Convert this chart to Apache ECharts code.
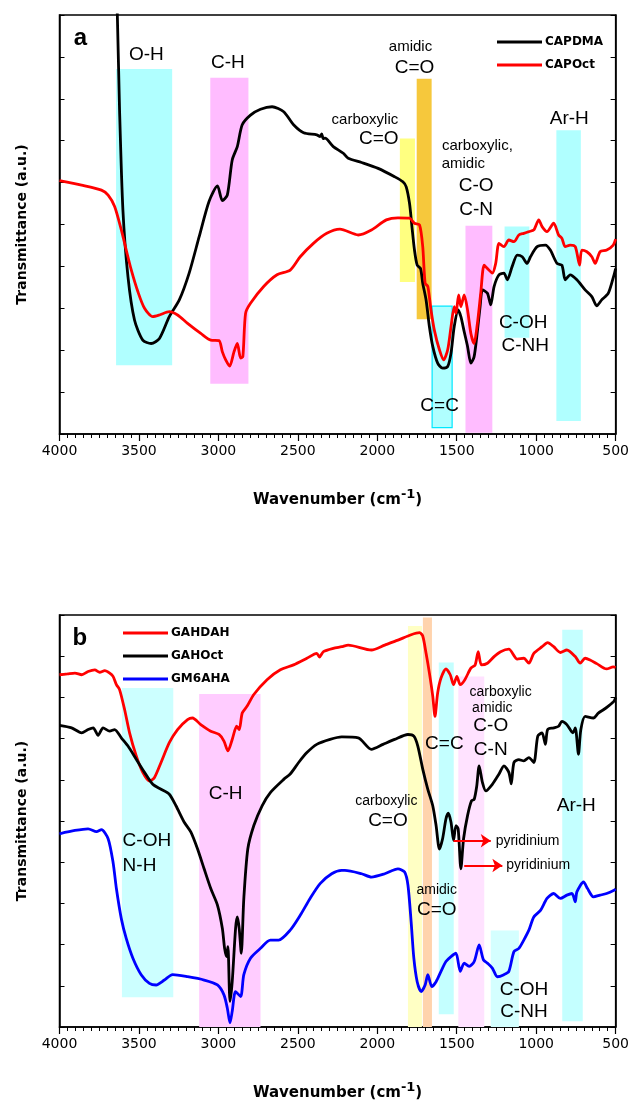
<!DOCTYPE html>
<html>
<head>
<meta charset="utf-8">
<script src="https://cdn.jsdelivr.net/npm/echarts@6/dist/echarts.min.js"></script>
<style>
  html, body { margin: 0; padding: 0; background: #ffffff; }
  #chart { width: 632px; height: 1102px; }
</style>
</head>
<body>
<div id="chart"></div>
<script>
// ---- data: panel a (wavenumber, transmittance a.u.) ----
var capdma = [[3650,115],[3636,100],[3622,77.3],[3601,53.5],[3569,37.5],[3528,27.2],[3476,22.4],[3423,21.6],[3371,22.8],[3309,28],[3246,32],[3184,38.4],[3121,47.1],[3059,55.5],[3006,59.2],[2975,55.7],[2944,57],[2913,65.4],[2881,68.6],[2850,73.8],[2798,76.1],[2735,77.5],[2662,78.1],[2589,76.9],[2527,73.8],[2464,71.9],[2381,71.4],[2360,71.0],[2350,71.6],[2340,70.5],[2329,70.6],[2277,68.6],[2214,67],[2183,65.8],[2099,64.8],[1995,63.4],[1891,61.4],[1839,60.2],[1818,59],[1797,55],[1782,49.5],[1766,43.9],[1749,40.3],[1728,39.5],[1714,36],[1693,32],[1672,25.6],[1651,20.9],[1620,16.9],[1589,15.7],[1557,16.1],[1536,19.3],[1516,25.6],[1491,29.6],[1474,28],[1453,24.4],[1432,20.9],[1411,16.9],[1391,18.4],[1374,23.2],[1353,30.4],[1338,34.4],[1307,33.6],[1286,30.8],[1265,35.2],[1234,38],[1203,38.4],[1182,36.8],[1151,40],[1119,42.7],[1088,42.3],[1057,40.7],[1036,42.3],[994,44.7],[942,45.1],[911,43.9],[869,40.7],[838,40.3],[817,36.8],[786,38],[744,36.8],[692,34.4],[650,32.8],[619,30.6],[588,32],[546,33.6],[510,38],[500,39.5]];
var capoct = [[4000,60.5],[3861,59.4],[3736,58.2],[3694,57],[3653,54.3],[3611,48.7],[3580,43.9],[3548,39.1],[3507,34],[3465,30],[3413,28],[3371,28.4],[3309,29.2],[3257,28.4],[3194,26.4],[3111,24],[3048,22.4],[2996,22.3],[2975,19.6],[2954,17.7],[2929,16.2],[2902,19.6],[2881,21.6],[2860,18.1],[2846,18.5],[2829,28.8],[2798,31.2],[2715,35.2],[2631,38],[2548,39.1],[2485,42.3],[2402,45.5],[2318,47.9],[2235,48.9],[2120,47.5],[2037,48.7],[1943,51.1],[1870,51.6],[1797,51.5],[1766,50.3],[1734,49.9],[1714,44.7],[1699,36],[1682,35.2],[1662,29.6],[1641,24.8],[1609,20.1],[1582,17.7],[1557,20.1],[1536,25.6],[1516,30.4],[1505,28.8],[1488,33.2],[1474,30.4],[1453,33.2],[1432,29.6],[1411,24],[1391,21.6],[1370,26.4],[1349,33.6],[1328,40.3],[1307,39.5],[1276,38.4],[1255,40.7],[1234,45.5],[1203,44.7],[1172,46.3],[1140,45.9],[1109,47.5],[1078,47.9],[1046,48.3],[1015,48.7],[984,51.1],[963,49.5],[932,48.3],[890,50.3],[859,47.5],[838,46.7],[817,44.7],[786,45.1],[754,44.7],[727,40.3],[713,43.9],[681,43.5],[650,42.3],[629,40.7],[598,43.5],[556,43.9],[515,45.1],[500,46.5]];

// ---- data: panel b ----
var gahdah = [[4000,85.5],[3950,85.7],[3903,85.9],[3860,85.5],[3820,86.3],[3778,86.7],[3747,86.1],[3715,86.5],[3684,85.9],[3663,85.1],[3642,83.1],[3622,81.9],[3590,77],[3559,71.4],[3517,65.8],[3476,61.8],[3434,59.7],[3403,60.5],[3361,64.2],[3309,69],[3257,72.2],[3194,74.6],[3163,75],[3111,73.4],[3048,71.8],[2996,71],[2965,69.4],[2940,67],[2913,69.8],[2885,73],[2869,72.2],[2850,76.2],[2819,77.9],[2777,80.7],[2694,84.3],[2610,86.7],[2527,87.9],[2443,89.5],[2381,90.7],[2364,89.8],[2339,91.1],[2277,91.9],[2224,92.3],[2183,92.7],[2037,91.5],[1953,92.7],[1870,93.9],[1787,95.2],[1734,95.7],[1714,94.9],[1693,90.7],[1672,85.9],[1651,80.3],[1637,75.4],[1620,81.1],[1599,84.7],[1568,86.9],[1541,85.5],[1520,83.1],[1499,85.1],[1478,83.1],[1449,84.3],[1411,87.1],[1384,87.9],[1365,91.1],[1345,87.9],[1307,88.3],[1265,89.9],[1224,91.1],[1172,91.7],[1119,89.3],[1078,89.5],[1046,88.3],[1015,90.7],[963,92.3],[928,93.3],[890,92.3],[848,90.9],[807,91.5],[754,89.9],[723,88.3],[692,89.5],[661,89.1],[619,88.2],[557,86.9],[515,87.4],[500,87.3]];
var gahoct = [[4000,73.2],[3924,72.6],[3861,71.4],[3820,72.2],[3788,72.6],[3757,70.8],[3726,72.6],[3684,71.8],[3653,72.2],[3611,70.2],[3569,68.2],[3517,65],[3465,61.8],[3413,58.9],[3361,57.7],[3309,56.5],[3267,53.7],[3215,49.7],[3173,47.3],[3131,43.2],[3090,38.4],[3048,33.6],[3006,29.6],[2975,23.9],[2961,19.1],[2948,17.1],[2940,19.5],[2927,6.2],[2913,11],[2892,23.9],[2881,26.7],[2869,23.9],[2856,17.9],[2840,31.2],[2815,43.2],[2777,48.9],[2725,53.7],[2673,56.9],[2589,60.1],[2548,61.4],[2495,64.2],[2443,66.6],[2381,68.6],[2297,69.8],[2224,70.4],[2120,70.2],[2037,67.4],[1964,68.6],[1891,69.8],[1807,71],[1770,70.6],[1745,68.2],[1714,62.6],[1682,57.7],[1651,53.7],[1630,48.9],[1609,43.2],[1589,45.7],[1568,50.5],[1553,51.9],[1536,49.7],[1520,45.3],[1505,48.9],[1491,48.1],[1474,38.4],[1457,45.7],[1432,51.3],[1407,54.9],[1390,55.3],[1374,58.5],[1359,63.4],[1338,59.3],[1317,57.3],[1276,58.9],[1234,61.4],[1203,63.4],[1172,61.8],[1157,59],[1140,64.2],[1109,64.9],[1078,64.6],[1046,65.4],[1015,64.2],[990,70.6],[963,71.4],[942,68.6],[928,72.2],[890,72.6],[859,73],[838,74.2],[807,73.4],[769,71.4],[754,72.6],[734,66.2],[719,72.2],[692,75.4],[640,75],[609,76.2],[577,77],[546,77.9],[510,79.1],[500,80]];
var gm6aha = [[4000,46.9],[3903,47.7],[3820,48.1],[3767,47.4],[3736,47.9],[3694,45.7],[3663,40],[3642,33.6],[3611,26.3],[3580,21.5],[3538,16.7],[3486,12.7],[3434,10.6],[3392,10.2],[3340,11.4],[3288,12.7],[3194,12.2],[3090,11.4],[3006,10.2],[2965,7.8],[2944,4.6],[2927,1],[2913,3.8],[2892,8.6],[2860,7.4],[2840,12.7],[2798,16.7],[2735,19.1],[2673,21.1],[2621,21.1],[2548,23.5],[2485,27.1],[2423,31.2],[2360,34.8],[2287,37.2],[2224,38],[2204,38],[2099,37.2],[2037,36.4],[1953,37.2],[1870,38.4],[1828,37.6],[1807,34.4],[1787,25.5],[1770,16.7],[1749,11],[1724,8.6],[1699,10.2],[1682,12.7],[1657,9.8],[1630,11],[1599,13.5],[1568,15.9],[1536,17.1],[1505,17.9],[1478,13.5],[1453,15.5],[1422,14.7],[1390,15.9],[1359,19.9],[1332,16.3],[1307,15.5],[1276,14.3],[1244,12.2],[1203,12.7],[1172,13.5],[1140,18.3],[1109,19.1],[1078,21.1],[1046,23.5],[1015,26.7],[973,28.3],[932,31.2],[890,32.4],[848,31.2],[807,32],[775,32.4],[754,30.4],[744,32.8],[702,35.2],[677,33.6],[640,31.6],[598,32],[557,32.4],[510,33.2],[500,33.5]];

// shaded bands: [wn from, wn to, y low, y high]
var bandsA = [[3644,3291,16.4,87.1],[3051,2811,12.0,85.0],[1858,1763,36.3,70.5],[1752,1658,27.4,84.8],[1655,1529,1.5,30.5],[1445,1276,0.3,49.7],[1199,1043,23,49.5],[873,719,3.1,72.5]];
var bandColorsA = ['#b0ffff','#ffbcff','#ffff80','#f6c83c','#b0ffff','#ffbcff','#b0ffff','#b0ffff'];
var bandsB = [[3607,3284,7.2,82.3],[3121,2735,0,80.8],[1807,1719,0,97.3],[1713,1656,0,99.4],[1613,1519,3.1,88.5],[1490,1327,0,85.1],[1286,1109,0,23.4],[836,707,1.4,96.4]];
var bandColorsB = ['#ccffff','#ffccff','#ffffc4','#ffd3ad','#c4ffff','#ffe2ff','#d4ffff','#c4ffff'];

// annotation texts [text, wn, y]
var panelTags = [['a',3868,94.5],['b',3872,94.4]];
var bigLabelsA = [['O-H',3453,90.5],['C-H',2940,88.7],['C=O',1766,87.4],['C=O',1991,70.4],['C-O',1378,59.3],['C-N',1378,53.5],['Ar-H',792,75.2],['C-OH',1082,26.5],['C-NH',1069,21],['C=C',1608,6.8]];
var smallLabelsA = [['amidic',1791,92.3],['carboxylic',2078,74.9],['carboxylic,',1370,68.8]];
var smallLeftA = [['amidic',1595,64.4]];
var bigLabelsB = [['C-H',2954,56.5],['C=O',1933,50.1],['C=C',1578,68.8],['C-O',1286,73],['C-N',1286,67.4],['Ar-H',748,53.7],['C=O',1626,28.5],['C-OH',1077,9],['C-NH',1077,3.8]];
var bigLeftB = [['C-OH',3603,45.2],['N-H',3603,39.2]];
var smallLabelsB = [['carboxylic',1943,54.9],['carboxylic',1224,81.2],['amidic',1276,77.3],['amidic',1626,33.3]];
var smallLeftB = [['pyridinium',1255,45.2],['pyridinium',1188,39.2]];
var arrowsB = [[[1520,45.2],[1286,45.2]],[[1453,39.2],[1213,39.2]]];

var chart = echarts.init(document.getElementById('chart'));

function bandSeries (bands, colors, gi) {
  return {
    type: 'custom',
    xAxisIndex: gi,
    yAxisIndex: gi * 2,
    z: 1,
    silent: true,
    clip: true,
    data: bands,
    renderItem: function (params, api) {
      var p1 = api.coord([api.value(0), api.value(3)]);
      var p2 = api.coord([api.value(1), api.value(2)]);
      var i = params.dataIndex;
      var bordered = (gi === 0 && i === 4);
      return {
        type: 'rect',
        shape: {
          x: Math.min(p1[0], p2[0]),
          y: Math.min(p1[1], p2[1]),
          width: Math.abs(p2[0] - p1[0]),
          height: Math.abs(p2[1] - p1[1])
        },
        style: { fill: colors[i], stroke: bordered ? '#00e8ff' : null, lineWidth: bordered ? 1.2 : 0 }
      };
    }
  };
}

function lineSeries (name, data, color, gi) {
  return {
    name: name,
    type: 'line',
    xAxisIndex: gi,
    yAxisIndex: gi * 2,
    data: data,
    symbol: 'none',
    smooth: 0.25,
    z: 3,
    lineStyle: { color: color, width: 2.8 },
    itemStyle: { color: color }
  };
}

function textSeries (list, gi, size, pos, bold) {
  return {
    type: 'scatter',
    xAxisIndex: gi,
    yAxisIndex: gi * 2,
    symbolSize: 0,
    silent: true,
    z: 5,
    itemStyle: { opacity: 1 },
    data: list.map(function (d) { return { value: [d[1], d[2]], name: d[0] } }),
    label: {
      show: true,
      position: pos,
      distance: 0,
      formatter: '{b}',
      fontFamily: 'Liberation Sans',
      fontWeight: bold ? 'bold' : 'normal',
      fontSize: size,
      color: '#000000',
      opacity: 1
    }
  };
}

var tickFont = {
  fontFamily: 'DejaVu Sans', fontSize: 14, color: '#000000', margin: 10,
  formatter: function (v) { return String(v); }
};
var xTitle = {
  rich: {
    t: { fontFamily: 'DejaVu Sans', fontWeight: 'bold', fontSize: 15, color: '#000000' },
    s: { fontFamily: 'DejaVu Sans', fontWeight: 'bold', fontSize: 13, color: '#000000', padding: [0, 0, 12, 0] }
  }
};

function xAxisFor (gi) {
  return {
    gridIndex: gi,
    type: 'value',
    min: 500,
    max: 4000,
    interval: 500,
    inverse: true,
    axisLine: { lineStyle: { color: '#000000', width: 1.5 } },
    axisTick: { inside: false, length: 7, lineStyle: { color: '#000000', width: 1.2 } },
    minorTick: { show: true, splitNumber: 10, length: 4, lineStyle: { color: '#000000', width: 1 } },
    axisLabel: tickFont,
    splitLine: { show: false },
    name: '{t|Wavenumber (cm}{s|-1}{t|)}',
    nameLocation: 'middle',
    nameGap: 54,
    nameTextStyle: xTitle
  };
}

function yAxisFor (gi, pos) {
  var ax = {
    gridIndex: gi,
    type: 'value',
    position: pos,
    min: 0,
    max: 100,
    interval: 10,
    axisLine: { show: true, lineStyle: { color: '#000000', width: 1.5 } },
    axisTick: { show: true, inside: true, length: 5, lineStyle: { color: '#000000', width: 1 } },
    axisLabel: { show: false },
    splitLine: { show: false }
  };
  if (pos === 'left') {
    ax.name = 'Transmittance (a.u.)';
    ax.nameLocation = 'middle';
    ax.nameGap = 30;
    ax.nameTextStyle = { fontFamily: 'DejaVu Sans', fontWeight: 'bold', fontSize: 14, color: '#000000' };
  }
  return ax;
}

var legendBase = {
  orient: 'vertical',
  padding: 0,
  icon: 'rect',
  itemWidth: 45,
  itemHeight: 3,
  itemGap: 11,
  textStyle: { fontFamily: 'DejaVu Sans', fontWeight: 'bold', fontSize: 12, color: '#000000', padding: [0, 0, 0, -2] }
};

var option = {
  backgroundColor: '#ffffff',
  animation: false,
  grid: [
    { left: 59.5, top: 15, width: 559.5, height: 419, show: true, borderColor: '#000000', borderWidth: 1.5, backgroundColor: 'transparent' },
    { left: 59.5, top: 615, width: 559.5, height: 414, show: true, borderColor: '#000000', borderWidth: 1.5, backgroundColor: 'transparent' }
  ],
  legend: [
    Object.assign({}, legendBase, { data: ['CAPDMA', 'CAPOct'], left: 497, top: 36 }),
    Object.assign({}, legendBase, { data: ['GAHDAH', 'GAHOct', 'GM6AHA'], left: 123, top: 627 })
  ],
  xAxis: [xAxisFor(0), xAxisFor(1)],
  yAxis: [yAxisFor(0, 'left'), yAxisFor(0, 'right'), yAxisFor(1, 'left'), yAxisFor(1, 'right')],
  series: [
    bandSeries(bandsA, bandColorsA, 0),
    bandSeries(bandsB, bandColorsB, 1),
    lineSeries('CAPDMA', capdma, '#000000', 0),
    lineSeries('CAPOct', capoct, '#ff0000', 0),
    lineSeries('GAHDAH', gahdah, '#ff0000', 1),
    lineSeries('GAHOct', gahoct, '#000000', 1),
    lineSeries('GM6AHA', gm6aha, '#0000ff', 1),
    textSeries(bigLabelsA, 0, 19, 'inside'),
    textSeries(smallLabelsA, 0, 15, 'inside'),
    textSeries(smallLeftA, 0, 15, 'right'),
    textSeries(bigLabelsB, 1, 19, 'inside'),
    textSeries(bigLeftB, 1, 19, 'right'),
    textSeries(smallLabelsB, 1, 14, 'inside'),
    textSeries(smallLeftB, 1, 14, 'right'),
    textSeries([panelTags[0]], 0, 24, 'inside', true),
    textSeries([panelTags[1]], 1, 24, 'inside', true),
    {
      type: 'lines',
      coordinateSystem: 'cartesian2d',
      xAxisIndex: 1,
      yAxisIndex: 2,
      z: 4,
      silent: true,
      symbol: ['none', 'arrow'],
      symbolSize: 10,
      lineStyle: { color: '#ff0000', width: 2, opacity: 1 },
      data: arrowsB.map(function (a) { return { coords: a } })
    }
  ]
};

chart.setOption(option);
</script>
</body>
</html>
